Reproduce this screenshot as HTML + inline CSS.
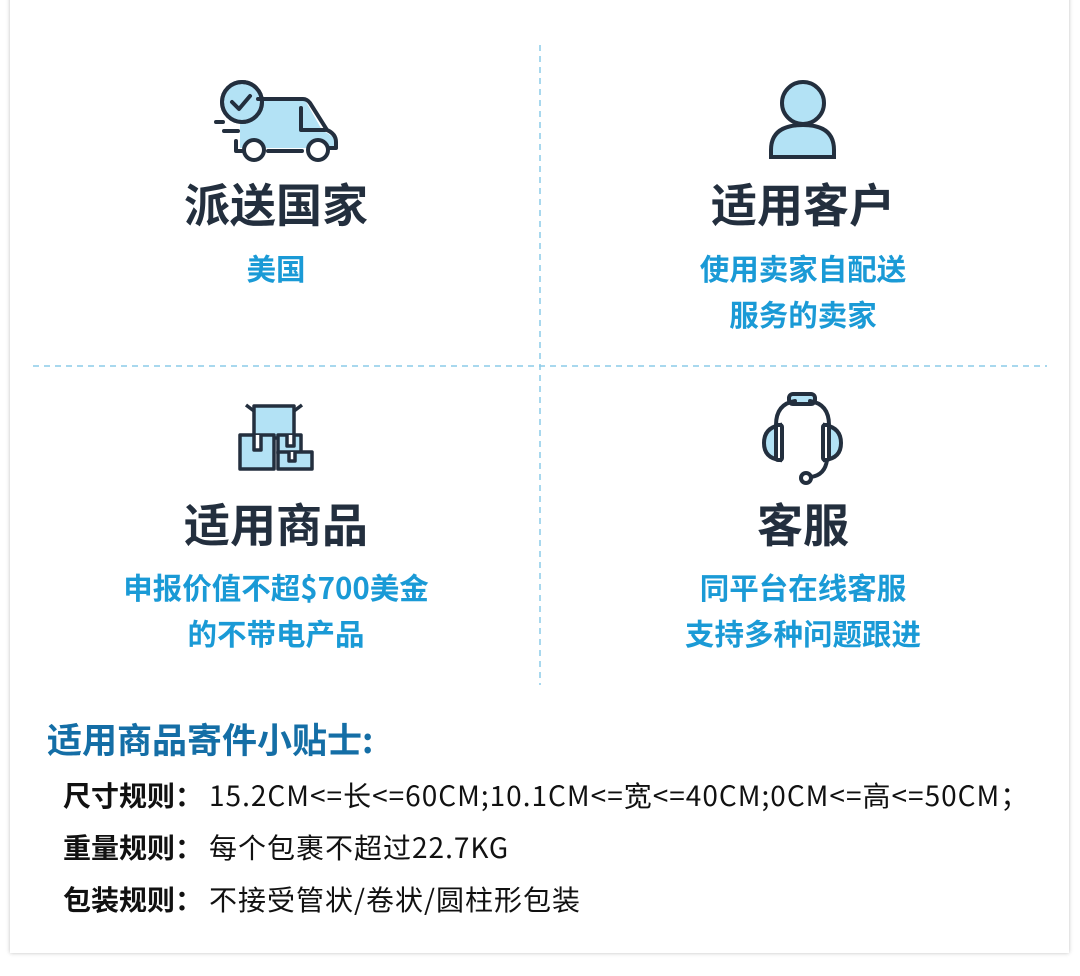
<!DOCTYPE html>
<html><head><meta charset="utf-8"><style>
body{margin:0;width:1080px;height:976px;background:#fff;position:relative;overflow:hidden;font-family:"Noto Sans CJK SC",sans-serif;}
.card{position:absolute;left:10px;top:-10px;width:1059px;height:963px;background:#fff;box-shadow:0 0 4px rgba(0,0,0,.25);}
.t{position:absolute;white-space:nowrap;}
.h{font-size:46px;font-weight:bold;color:#232f3e;transform:translateX(-50%);line-height:1;}
.b{font-size:29.5px;font-weight:bold;color:#1a9ad6;transform:translateX(-50%);text-align:center;line-height:46px;}
.r{font-size:28px;color:#111;line-height:1;}
.r b{font-weight:bold;}
.r span{margin-left:6px;letter-spacing:1px;}
svg{position:absolute;}
</style></head><body>
<div class="card"></div>
<svg width="1080" height="976" style="left:0;top:0">
<line x1="540" y1="45" x2="540" y2="685" stroke="#8ccbe8" stroke-width="1.5" stroke-dasharray="6,5"/>
<line x1="33" y1="366" x2="1047" y2="366" stroke="#8ccbe8" stroke-width="1.5" stroke-dasharray="6,5"/>
<g stroke="#232f3e" stroke-width="4" fill="none" stroke-linecap="round" stroke-linejoin="round">
<path d="M240 100 H305 L322 130 L335 138 V148 H240Z" fill="#b3e2f5" stroke="none"/>
<circle cx="242" cy="102" r="20" fill="#b3e2f5"/>
<path d="M258 99 H303 Q307 99 310 103 L327 130 Q336 134 336 142 V148 H330"/>
<path d="M301 108 V130 H325"/>
<path d="M236 141 V151 H242"/>
<path d="M268 151 H302"/>
<circle cx="254" cy="150" r="10" fill="#fff"/><circle cx="318" cy="150" r="10" fill="#fff"/>
<circle cx="242" cy="102" r="20"/>
<path d="M232 102 L239 109 L250 96"/>
<path d="M216 122 H223 M224 131 H238"/>
</g>
<g stroke="#232f3e" stroke-width="4" fill="#b3e2f5">
<circle cx="803" cy="103" r="21"/>
<path d="M771 157 V150 Q771 125 803 125 Q834 125 834 150 V157Z"/>
</g>
<g stroke="#232f3e" stroke-width="3.5" fill="#b3e2f5" stroke-linejoin="round">
<rect x="254" y="406" width="40" height="32"/>
<path d="M246 405 L254 411 M302 405 L294 411" fill="none"/>
<rect x="240" y="435" width="34" height="34"/>
<rect x="278" y="435" width="23" height="18"/>
<rect x="278" y="452" width="34" height="17"/>
<path d="M254 435 V450 H261 V435 M287 435 V446 H294 V435 M289 452 V461 H295 V452" fill="#fff"/>
</g>
<g stroke="#232f3e" stroke-width="4" fill="none" stroke-linecap="round">
<rect x="789" y="394" width="26" height="10" rx="4" fill="#b3e2f5"/>
<path d="M776 425 Q776 404 795 401 M829 425 Q829 404 810 401"/>
<path d="M780 425 Q764 428 764 443 Q764 458 780 460Z M825 425 Q841 428 841 443 Q841 458 825 460Z" fill="#b3e2f5"/>
<rect x="776" y="425" width="6" height="35" rx="2" fill="#fff"/>
<rect x="823" y="425" width="6" height="35" rx="2" fill="#fff"/>
<path d="M827 460 Q825 475 811 477"/>
<circle cx="806" cy="478" r="5" fill="#fff"/>
</g>
</svg>
<div class="t h" style="left:276px;top:180px">派送国家</div>
<div class="t b" style="left:276px;top:245px">美国</div>
<div class="t h" style="left:803px;top:180px">适用客户</div>
<div class="t b" style="left:803px;top:245px">使用卖家自配送<br>服务的卖家</div>
<div class="t h" style="left:276px;top:500px">适用商品</div>
<div class="t b" style="left:276px;top:564px">申报价值不超$700美金<br>的不带电产品</div>
<div class="t h" style="left:803px;top:500px">客服</div>
<div class="t b" style="left:803px;top:564px">同平台在线客服<br>支持多种问题跟进</div>
<div class="t" style="left:47px;top:721px;font-size:35px;font-weight:bold;color:#146ea6;line-height:1">适用商品寄件小贴士:</div>
<div class="t r" style="left:63px;top:781px"><b>尺寸规则：</b><span>15.2CM&lt;=长&lt;=60CM;10.1CM&lt;=宽&lt;=40CM;0CM&lt;=高&lt;=50CM；</span></div>
<div class="t r" style="left:63px;top:833px"><b>重量规则：</b><span>每个包裹不超过22.7KG</span></div>
<div class="t r" style="left:63px;top:885px"><b>包装规则：</b><span>不接受管状/卷状/圆柱形包装</span></div>
</body></html>
